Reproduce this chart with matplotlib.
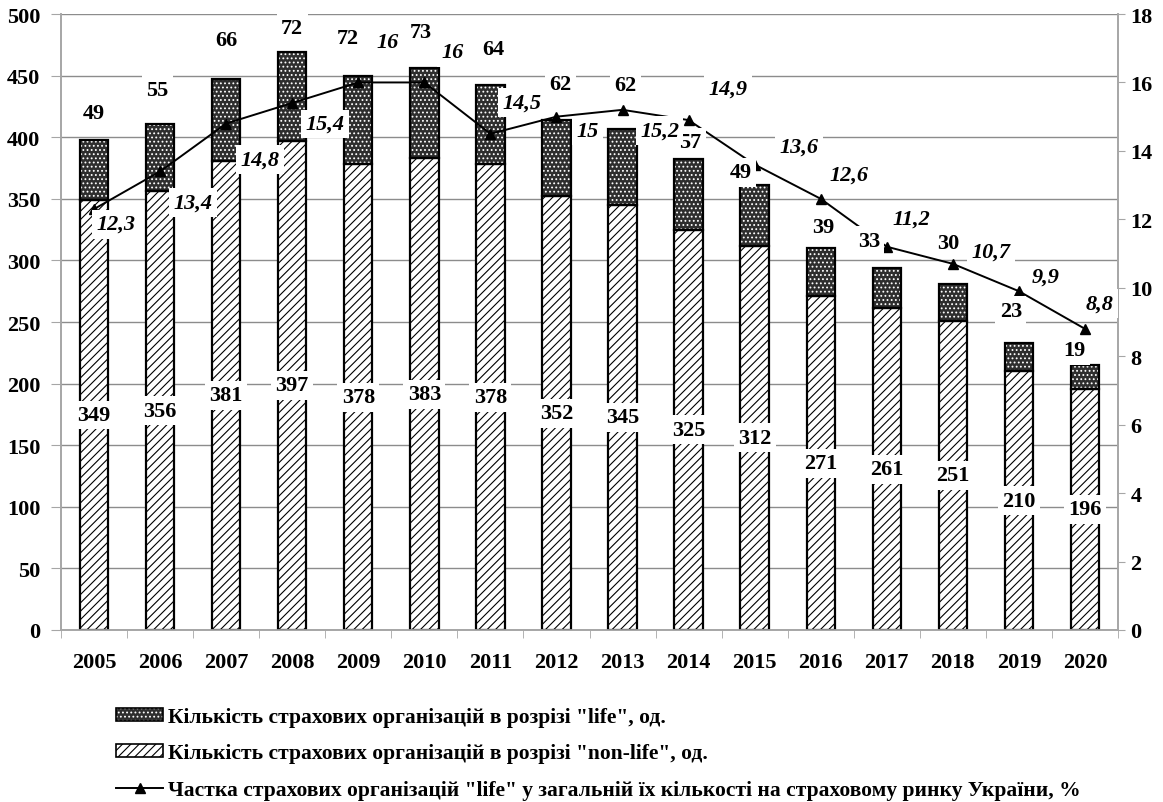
import matplotlib
matplotlib.use("Agg")
import matplotlib.pyplot as plt
from matplotlib.patches import Patch
from matplotlib.lines import Line2D
import numpy as np

plt.rcParams['font.family'] = ['Liberation Serif', 'DejaVu Serif']
plt.rcParams['font.weight'] = 'bold'
plt.rcParams['hatch.linewidth'] = 0.8

# дані
years = ['2005', '2006', '2007', '2008', '2009', '2010', '2011', '2012',
         '2013', '2014', '2015', '2016', '2017', '2018', '2019', '2020']
life = [49, 55, 66, 72, 72, 73, 64, 62, 62, 57, 49, 39, 33, 30, 23, 19]
nonlife = [349, 356, 381, 397, 378, 383, 378, 352, 345, 325, 312, 271, 261, 251, 210, 196]
share = [12.3, 13.4, 14.8, 15.4, 16, 16, 14.5, 15, 15.2, 14.9, 13.6, 12.6, 11.2, 10.7, 9.9, 8.8]

lbl_life = 'Кількість страхових організацій в розрізі "life", од.'
lbl_nonlife = 'Кількість страхових організацій в розрізі "non-life", од.'
lbl_share = 'Частка страхових організацій "life" у загальній їх кількості на страховому ринку України, %'

# зсуви підписів (пікселі), підібрані по картинці
off_life = [(0, 27), (-3, 34), (0, 39), (0, 24), (-10, 38), (-4, 36), (3, 36), (4, 36),
            (3, 44), (2, 17), (-14, 13), (3, 21), (-18, 27), (-5, 41), (-8, 32), (-11, 15)]
off_share = [(22, -15), (33, -31), (34, -36), (33, -21), (29, 40), (28, 30), (32, 31), (31, -14),
             (37, -21), (39, 31), (44, 18), (28, 24), (25, 28), (38, 12), (27, 15), (15, 25)]

x = np.arange(len(years))
w = 0.43
gray = '#a6a6a6'
fs = 16

fig = plt.figure(figsize=(11.63, 8.03), dpi=100)
ax = fig.add_axes([61/1163, 1-631/803, (1118-61)/1163, (631-15)/803])
ax2 = ax.twinx()

# non-life
ax.bar(x, nonlife, w, color='white', edgecolor='black', hatch='////', linewidth=0, zorder=2)
ax.bar(x, nonlife, w, fill=False, edgecolor='black', linewidth=1.6, zorder=3)
# life
ax.bar(x, life, w, bottom=nonlife, color='#2e2e2e', edgecolor='white', hatch='....', linewidth=0, zorder=2)
ax.bar(x, life, w, bottom=nonlife, fill=False, edgecolor='black', linewidth=1.6, zorder=3)

ax.set_ylim(0, 500)
ax.set_yticks(range(0, 501, 50))
ax.set_xlim(-0.5, len(years) - 0.5)
ax.set_xticks(x)
ax.set_xticklabels(years)
ax.set_xticks(np.arange(-0.5, len(years), 1), minor=True)
ax.tick_params(axis='x', which='major', length=0, pad=16, labelsize=fs)
ax.tick_params(axis='x', which='minor', length=6, color=gray, direction='out')
ax.tick_params(axis='y', length=7, color=gray, pad=8, labelsize=fs)
ax.yaxis.grid(True, color='#8c8c8c', linewidth=1)
ax.set_axisbelow(True)

ax2.plot(x, share, color='black', linewidth=1.4, marker='^', markersize=7, zorder=4)
ax2.set_ylim(0, 18)
ax2.set_yticks(range(0, 19, 2))
ax2.tick_params(axis='y', length=5, color=gray, pad=4, labelsize=fs)

for a in (ax, ax2):
    a.spines['top'].set_visible(False)
    for s in ('left', 'right', 'bottom'):
        a.spines[s].set_color(gray)
        a.spines[s].set_linewidth(1.2)

box = dict(boxstyle='square,pad=0.2', fc='white', ec='none')

for i in range(len(years)):
    # non-life у центрі стовпця
    ax2.annotate(str(nonlife[i]), (x[i], nonlife[i] / 2), xycoords=ax.transData,
                 ha='center', va='center', fontsize=fs, fontweight='bold',
                 bbox=box, zorder=6)
    # life над стовпцем
    ax2.annotate(str(life[i]), (x[i], nonlife[i] + life[i]), xycoords=ax.transData,
                 xytext=off_life[i], textcoords='offset pixels',
                 ha='center', va='center', fontsize=fs, fontweight='bold',
                 bbox=box, zorder=6)
    # частка
    ax2.annotate(('%g' % share[i]).replace('.', ','), (x[i], share[i]),
                 xytext=off_share[i], textcoords='offset pixels',
                 ha='center', va='center', fontsize=fs, fontweight='bold', style='italic',
                 bbox=box, zorder=7)

h_life = (Patch(facecolor='#2e2e2e', edgecolor='white', hatch='....', linewidth=0),
          Patch(fill=False, edgecolor='black', linewidth=1.2))
h_nonlife = (Patch(facecolor='white', edgecolor='black', hatch='////', linewidth=0),
             Patch(fill=False, edgecolor='black', linewidth=1.2))
h_share = Line2D([], [], color='black', linewidth=1.4, marker='^', markersize=7)

fig.legend([h_life, h_nonlife, h_share], [lbl_life, lbl_nonlife, lbl_share],
           loc='upper left', bbox_to_anchor=(116/1163, 1 - 708/803),
           frameon=False, fontsize=15.5, handlelength=2.2, handleheight=0.55,
           handletextpad=0.2, labelspacing=0.76, borderpad=0, borderaxespad=0)

plt.savefig('out.png', dpi=100)
